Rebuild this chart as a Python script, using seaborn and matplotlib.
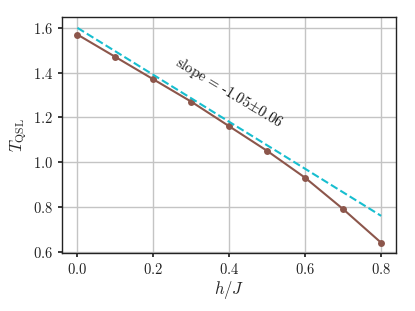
import matplotlib
matplotlib.use("Agg")
import matplotlib.pyplot as plt
import seaborn as sns
import pandas as pd

h = [0.0, 0.1, 0.2, 0.3, 0.4, 0.5, 0.6, 0.7, 0.8]
t_qsl = [1.57, 1.47, 1.37, 1.27, 1.16, 1.05, 0.93, 0.79, 0.64]
fit_h = [0.0, 0.8]
fit_t = [1.60, 0.76]
label = r"slope = -1.05$\pm$0.06"

sns.set_theme(style="whitegrid")
plt.rcParams.update({
    "font.family": ["cmr10", "DejaVu Serif"],
    "mathtext.fontset": "cm",
    "axes.formatter.use_mathtext": True,
    "axes.edgecolor": "#222222",
    "axes.linewidth": 1.0,
    "grid.color": "#c4c4c4",
    "grid.linewidth": 1.0,
    "xtick.bottom": True,
    "ytick.left": True,
    "xtick.major.size": 3,
    "ytick.major.size": 3,
    "xtick.color": "#222222",
    "ytick.color": "#222222",
})

df = pd.DataFrame({"h": h, "t": t_qsl})
fit = pd.DataFrame({"h": fit_h, "t": fit_t})

fig, ax = plt.subplots(figsize=(4.15, 3.11), dpi=100)
sns.lineplot(data=df, x="h", y="t", ax=ax, color="#8c564b", marker="o",
             markersize=5, markeredgewidth=0, linewidth=1.5)
sns.lineplot(data=fit, x="h", y="t", ax=ax, color="#17becf",
             linestyle="--", linewidth=1.5)

ax.set_xticks([0.0, 0.2, 0.4, 0.6, 0.8])
ax.set_yticks([0.6, 0.8, 1.0, 1.2, 1.4, 1.6])
ax.set_xticklabels([f"${v:.1f}$" for v in [0.0, 0.2, 0.4, 0.6, 0.8]], fontsize=10.5)
ax.set_yticklabels([f"${v:.1f}$" for v in [0.6, 0.8, 1.0, 1.2, 1.4, 1.6]], fontsize=10.5)
ax.set_xlabel(r"$h/J$", fontsize=12, labelpad=1)
ax.set_ylabel(r"$T_{\mathrm{QSL}}$", fontsize=12, labelpad=3)
ax.text(0.4, 1.31, label, rotation=-31, ha="center", va="center",
        fontsize=10.5, color="#111111")
for s in ax.spines.values():
    s.set_visible(True)

fig.subplots_adjust(left=0.15, right=0.955, top=0.945, bottom=0.185)
fig.savefig("out.png", dpi=100)
